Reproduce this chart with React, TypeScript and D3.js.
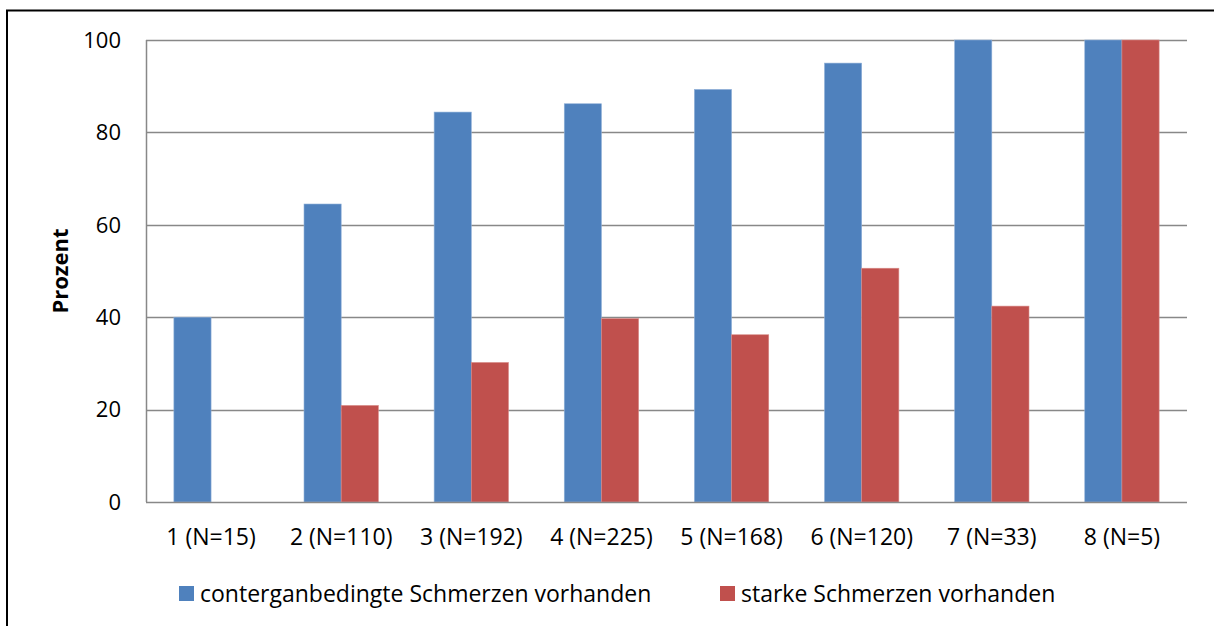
import React from "react";
import * as d3 from "d3";

const categories = ["1 (N=15)", "2 (N=110)", "3 (N=192)", "4 (N=225)", "5 (N=168)", "6 (N=120)", "7 (N=33)", "8 (N=5)"];
const seriesNames = ["conterganbedingte Schmerzen vorhanden", "starke Schmerzen vorhanden"];
const blueValues = [40, 64.5, 84.4, 86.2, 89.3, 95.0, 100, 100];
const redValues = [0, 20.9, 30.2, 39.7, 36.2, 50.6, 42.4, 100];
const yTicks = [0, 20, 40, 60, 80, 100];
const colors = ["#4F81BD", "#C0504D"];

const W = 1214, H = 626;
const plot = { left: 146, top: 40, right: 1187, bottom: 502 };
const FONT = "'Open Sans', sans-serif";
const FS = 23;

export default function App() {
  const x = d3.scaleBand<string>().domain(categories).range([plot.left, plot.right]).paddingInner(0.4286).paddingOuter(0.2143);
  const y = d3.scaleLinear().domain([0, 100]).range([plot.bottom, plot.top]);
  const inner = d3.scaleBand<number>().domain([0, 1]).range([0, x.bandwidth()]);
  const series = [blueValues, redValues];
  const band = (plot.right - plot.left) / categories.length;
  return (
    <svg width={W} height={H} style={{ position: "absolute", left: 0, top: 0, background: "#fff" }} fontFamily={FONT}>
      <rect x={7} y={10.5} width={W + 20} height={H + 20} fill="#fff" stroke="#000" strokeWidth={2} />
      {yTicks.map((t) => (
        <g key={t}>
          {t > 0 && <line x1={plot.left} x2={plot.right} y1={Math.round(y(t)) + 0.5} y2={Math.round(y(t)) + 0.5} stroke="#888" strokeWidth={1.3} />}
          <text x={121} y={y(t)} dy="0.35em" textAnchor="end" fontSize={22} fill="#000">{t}</text>
        </g>
      ))}
      {categories.map((c, i) =>
        series.map((vals, s) => {
          const v = vals[i];
          if (v <= 0) return null;
          const bx = (x(c) as number) + (inner(s) as number);
          return (
            <rect key={c + s} x={bx} y={y(v)} width={inner.bandwidth()} height={y(0) - y(v)} fill={colors[s]} stroke={s === 0 ? "#8fb0d8" : "#d88a88"} strokeWidth={0.6} />
          );
        })
      )}
      <line x1={plot.left} x2={plot.right} y1={plot.bottom + 0.5} y2={plot.bottom + 0.5} stroke="#888" strokeWidth={1.5} />
      <line x1={plot.left + 0.5} x2={plot.left + 0.5} y1={plot.top} y2={plot.bottom} stroke="#888" strokeWidth={1.5} />
      {categories.map((c, i) => (
        <text key={c} x={plot.left + band * (i + 0.5)} y={537} dy="0.35em" textAnchor="middle" fontSize={FS} fill="#000">{c}</text>
      ))}
      <text transform={`translate(60,${(plot.top + plot.bottom) / 2}) rotate(-90)`} textAnchor="middle" dy="0.35em" fontSize={22} fontWeight="bold" fill="#000">Prozent</text>
      {seriesNames.map((n, s) => {
        const lx = s === 0 ? 179 : 720;
        return (
          <g key={n}>
            <rect x={lx} y={586} width={15} height={15} fill={colors[s]} />
            <text x={lx + 21} y={593.5} dy="0.35em" fontSize={FS} fill="#000">{n}</text>
          </g>
        );
      })}
    </svg>
  );
}
